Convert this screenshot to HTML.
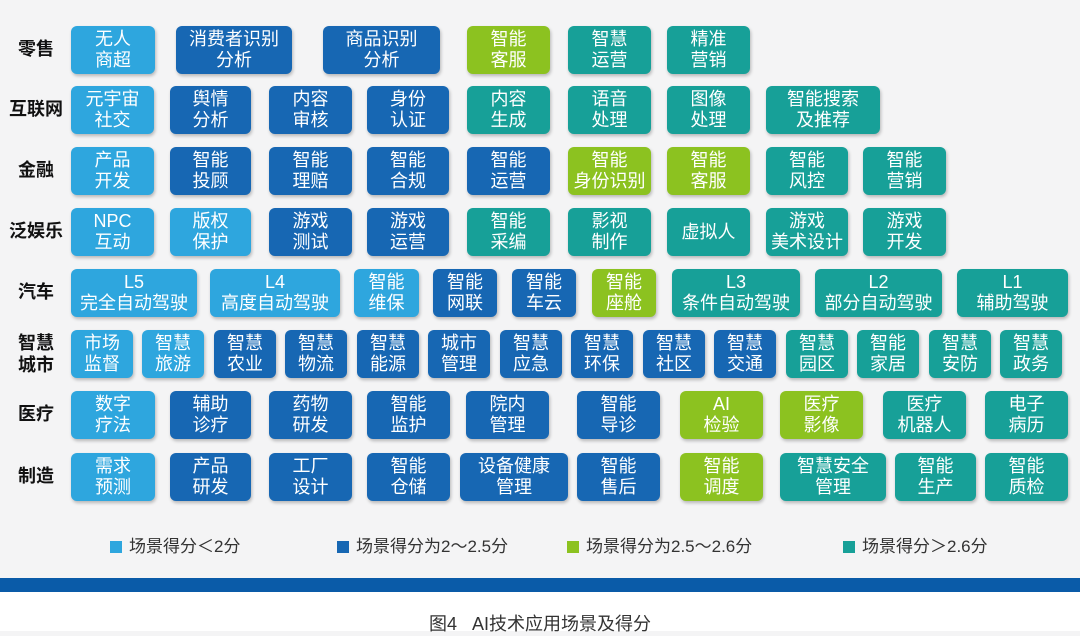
<!DOCTYPE html>
<html><head><meta charset="utf-8"><style>
body{margin:0;width:1080px;height:631px;position:relative;background:#f4f4f5;overflow:hidden;font-family:"Liberation Sans","Noto Sans CJK SC",sans-serif}
.b{position:absolute;height:48px;border-radius:6px;color:#fff;font-size:18px;line-height:21px;display:flex;align-items:center;justify-content:center;text-align:center;box-shadow:1px 2px 3px rgba(0,0,0,.25)}
.l{background:#2ea6de}.d{background:#1767b3}.g{background:#8cc220}.t{background:#17a098}
.lab{position:absolute;left:6px;width:60px;text-align:center;font-weight:bold;font-size:18px;line-height:22px;color:#111;white-space:nowrap}
.lg{position:absolute;top:537px;font-size:17px;color:#333;line-height:20px}
.lg i{display:inline-block;width:12px;height:12px;margin-right:7px;vertical-align:-1px}
</style></head><body>
<div class="lab" style="top:38px">零售</div>
<div class="lab" style="top:98px">互联网</div>
<div class="lab" style="top:159px">金融</div>
<div class="lab" style="top:220px">泛娱乐</div>
<div class="lab" style="top:281px">汽车</div>
<div class="lab" style="top:332px">智慧<br>城市</div>
<div class="lab" style="top:403px">医疗</div>
<div class="lab" style="top:465px">制造</div>

<div class="b l" style="top:26px;left:71px;width:84px">无人<br>商超</div>
<div class="b d" style="top:26px;left:176px;width:116px">消费者识别<br>分析</div>
<div class="b d" style="top:26px;left:323px;width:117px">商品识别<br>分析</div>
<div class="b g" style="top:26px;left:467px;width:83px">智能<br>客服</div>
<div class="b t" style="top:26px;left:568px;width:83px">智慧<br>运营</div>
<div class="b t" style="top:26px;left:667px;width:83px">精准<br>营销</div>

<div class="b l" style="top:86px;left:71px;width:83px">元宇宙<br>社交</div>
<div class="b d" style="top:86px;left:170px;width:81px">舆情<br>分析</div>
<div class="b d" style="top:86px;left:269px;width:83px">内容<br>审核</div>
<div class="b d" style="top:86px;left:367px;width:82px">身份<br>认证</div>
<div class="b t" style="top:86px;left:467px;width:83px">内容<br>生成</div>
<div class="b t" style="top:86px;left:568px;width:83px">语音<br>处理</div>
<div class="b t" style="top:86px;left:667px;width:83px">图像<br>处理</div>
<div class="b t" style="top:86px;left:766px;width:114px">智能搜索<br>及推荐</div>

<div class="b l" style="top:147px;left:71px;width:83px">产品<br>开发</div>
<div class="b d" style="top:147px;left:170px;width:81px">智能<br>投顾</div>
<div class="b d" style="top:147px;left:269px;width:83px">智能<br>理赔</div>
<div class="b d" style="top:147px;left:367px;width:82px">智能<br>合规</div>
<div class="b d" style="top:147px;left:467px;width:83px">智能<br>运营</div>
<div class="b g" style="top:147px;left:568px;width:83px">智能<br>身份识别</div>
<div class="b g" style="top:147px;left:667px;width:83px">智能<br>客服</div>
<div class="b t" style="top:147px;left:766px;width:82px">智能<br>风控</div>
<div class="b t" style="top:147px;left:863px;width:83px">智能<br>营销</div>

<div class="b l" style="top:208px;left:71px;width:83px">NPC<br>互动</div>
<div class="b l" style="top:208px;left:170px;width:81px">版权<br>保护</div>
<div class="b d" style="top:208px;left:269px;width:83px">游戏<br>测试</div>
<div class="b d" style="top:208px;left:367px;width:82px">游戏<br>运营</div>
<div class="b t" style="top:208px;left:467px;width:83px">智能<br>采编</div>
<div class="b t" style="top:208px;left:568px;width:83px">影视<br>制作</div>
<div class="b t" style="top:208px;left:667px;width:83px">虚拟人</div>
<div class="b t" style="top:208px;left:766px;width:82px">游戏<br>美术设计</div>
<div class="b t" style="top:208px;left:863px;width:83px">游戏<br>开发</div>

<div class="b l" style="top:269px;left:71px;width:126px">L5<br>完全自动驾驶</div>
<div class="b l" style="top:269px;left:210px;width:130px">L4<br>高度自动驾驶</div>
<div class="b l" style="top:269px;left:354px;width:65px">智能<br>维保</div>
<div class="b d" style="top:269px;left:433px;width:64px">智能<br>网联</div>
<div class="b d" style="top:269px;left:512px;width:64px">智能<br>车云</div>
<div class="b g" style="top:269px;left:592px;width:64px">智能<br>座舱</div>
<div class="b t" style="top:269px;left:672px;width:128px">L3<br>条件自动驾驶</div>
<div class="b t" style="top:269px;left:815px;width:127px">L2<br>部分自动驾驶</div>
<div class="b t" style="top:269px;left:957px;width:111px">L1<br>辅助驾驶</div>

<div class="b l" style="top:330px;left:71px;width:62px">市场<br>监督</div>
<div class="b l" style="top:330px;left:142px;width:62px">智慧<br>旅游</div>
<div class="b d" style="top:330px;left:214px;width:62px">智慧<br>农业</div>
<div class="b d" style="top:330px;left:285px;width:62px">智慧<br>物流</div>
<div class="b d" style="top:330px;left:357px;width:62px">智慧<br>能源</div>
<div class="b d" style="top:330px;left:428px;width:62px">城市<br>管理</div>
<div class="b d" style="top:330px;left:500px;width:62px">智慧<br>应急</div>
<div class="b d" style="top:330px;left:571px;width:62px">智慧<br>环保</div>
<div class="b d" style="top:330px;left:643px;width:62px">智慧<br>社区</div>
<div class="b d" style="top:330px;left:714px;width:62px">智慧<br>交通</div>
<div class="b t" style="top:330px;left:786px;width:62px">智慧<br>园区</div>
<div class="b t" style="top:330px;left:857px;width:62px">智能<br>家居</div>
<div class="b t" style="top:330px;left:929px;width:62px">智慧<br>安防</div>
<div class="b t" style="top:330px;left:1000px;width:62px">智慧<br>政务</div>

<div class="b l" style="top:391px;left:71px;width:84px">数字<br>疗法</div>
<div class="b d" style="top:391px;left:170px;width:81px">辅助<br>诊疗</div>
<div class="b d" style="top:391px;left:269px;width:83px">药物<br>研发</div>
<div class="b d" style="top:391px;left:367px;width:83px">智能<br>监护</div>
<div class="b d" style="top:391px;left:466px;width:83px">院内<br>管理</div>
<div class="b d" style="top:391px;left:577px;width:83px">智能<br>导诊</div>
<div class="b g" style="top:391px;left:680px;width:83px">AI<br>检验</div>
<div class="b g" style="top:391px;left:780px;width:83px">医疗<br>影像</div>
<div class="b t" style="top:391px;left:883px;width:83px">医疗<br>机器人</div>
<div class="b t" style="top:391px;left:985px;width:83px">电子<br>病历</div>

<div class="b l" style="top:453px;left:71px;width:84px">需求<br>预测</div>
<div class="b d" style="top:453px;left:170px;width:81px">产品<br>研发</div>
<div class="b d" style="top:453px;left:269px;width:83px">工厂<br>设计</div>
<div class="b d" style="top:453px;left:367px;width:83px">智能<br>仓储</div>
<div class="b d" style="top:453px;left:460px;width:108px">设备健康<br>管理</div>
<div class="b d" style="top:453px;left:577px;width:83px">智能<br>售后</div>
<div class="b g" style="top:453px;left:680px;width:83px">智能<br>调度</div>
<div class="b t" style="top:453px;left:780px;width:106px">智慧安全<br>管理</div>
<div class="b t" style="top:453px;left:895px;width:81px">智能<br>生产</div>
<div class="b t" style="top:453px;left:985px;width:83px">智能<br>质检</div>

<div class="lg" style="left:110px"><i style="background:#2ea6de"></i>场景得分＜2分</div>
<div class="lg" style="left:337px"><i style="background:#1767b3"></i>场景得分为2～2.5分</div>
<div class="lg" style="left:567px"><i style="background:#8cc220"></i>场景得分为2.5～2.6分</div>
<div class="lg" style="left:843px"><i style="background:#17a098"></i>场景得分＞2.6分</div>

<div style="position:absolute;left:0;top:578px;width:1080px;height:14px;background:#0a5ba8"></div>
<div style="position:absolute;left:0;top:592px;width:1080px;height:39px;background:#fff"></div>
<div style="position:absolute;left:0;top:610px;width:1080px;text-align:center;font-size:18px;color:#333">图4&nbsp;&nbsp;&nbsp;AI技术应用场景及得分</div>
</body></html>
